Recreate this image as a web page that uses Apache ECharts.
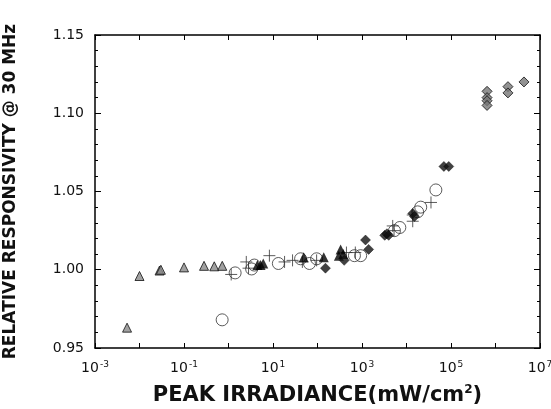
<!DOCTYPE html>
<html><head><meta charset="utf-8">
<script src="https://cdn.jsdelivr.net/npm/echarts@6/dist/echarts.min.js"></script>
<style>html,body{margin:0;padding:0;background:#fff}#c{width:551px;height:409px}</style>
</head><body><div id="c"></div>
<script>
// x = peak irradiance (mW/cm^2), y = relative responsivity
var grayTriangles = [[0.00525,0.963],[0.01,0.996],[0.0282,0.9995],[0.0302,1.0],[0.1,1.0015],[0.282,1.0025],[0.479,1.0022],[0.724,1.0025]];
var openCircles = [[0.72,0.968],[1.41,0.998],[3.31,1.0005],[3.8,1.003],[13.2,1.004],[41.7,1.007],[66,1.004],[95.5,1.007],[676,1.009],[933,1.009],[5370,1.025],[7080,1.027],[17800,1.037],[20900,1.04],[45700,1.051]];
var crosses = [[1.15,0.997],[2.51,1.005],[2.82,1.001],[8.3,1.009],[18.2,1.005],[27.5,1.006],[45.7,1.005],[95.5,1.006],[447,1.011],[708,1.011],[4900,1.028],[5250,1.025],[13800,1.035],[13800,1.031],[35500,1.043]];
var blackTriangles = [[4.47,1.003],[6.03,1.004],[5.25,1.003],[49,1.008],[138,1.008],[331,1.013],[302,1.009],[380,1.010]];
var blackDiamonds = [[151,1.001],[398,1.006],[1200,1.019],[1410,1.013],[3240,1.022],[3980,1.022],[3630,1.023],[13800,1.036],[15100,1.034],[69200,1.066],[89100,1.066]];
var grayDiamonds = [[646000,1.114],[646000,1.110],[646000,1.108],[646000,1.105],[1905000,1.117],[1905000,1.113],[4365000,1.120]];
var yTickLabels = ['0.95','1.00','1.05','1.10','1.15'];
var xLabelExponents = [-3,-1,1,3,5,7];

var FONT = '"DejaVu Sans", "Liberation Sans", Arial, sans-serif';
var chart = echarts.init(document.getElementById('c'));
function expLabel(v){
  var e = Math.round(Math.log(v)/Math.LN10);
  if (xLabelExponents.indexOf(e) < 0) return '';
  return '{b|10}{s|' + e + '}';
}
var frameLine = {show:true, lineStyle:{color:'#000', width:1.5}};
chart.setOption({
  animation:false,
  backgroundColor:'#fff',
  grid:{left:95, right:11, top:35, bottom:61, containLabel:false, outerBoundsMode:'none'},
  xAxis:[{
    type:'log', logBase:10, min:0.001, max:1e7, interval:1,
    axisLine:frameLine,
    axisTick:{show:true, inside:true, length:5, lineStyle:{color:'#000'}},
    splitLine:{show:false},
    axisLabel:{formatter:expLabel, margin:12, color:'#111',
      rich:{b:{fontSize:14, fontFamily:FONT, color:'#111'}, s:{fontSize:9, fontFamily:FONT, color:'#111', padding:[0,0,7,1]}}},
    name:'{n|PEAK IRRADIANCE(mW/cm}{s|2}{n|)}',
    nameLocation:'middle', nameGap:36,
    nameTextStyle:{rich:{n:{fontSize:21, fontWeight:'bold', fontFamily:FONT, color:'#111'}, s:{fontSize:12, fontWeight:'bold', fontFamily:FONT, color:'#111', padding:[0,0,11,0]}}}
  },{
    type:'log', logBase:10, min:0.001, max:1e7, interval:1, position:'top',
    axisLine:frameLine,
    axisTick:{show:true, inside:true, length:5, lineStyle:{color:'#000'}},
    axisLabel:{show:false}, splitLine:{show:false}
  }],
  yAxis:[{
    type:'value', min:0.95, max:1.15, interval:0.05,
    axisLine:frameLine,
    axisTick:{show:true, inside:true, length:6, lineStyle:{color:'#000'}},
    minorTick:{show:true, splitNumber:5, length:3, lineStyle:{color:'#000'}},
    splitLine:{show:false},
    axisLabel:{margin:11, fontSize:14, fontFamily:FONT, color:'#111',
      formatter:function(v){ return yTickLabels[Math.round((v-0.95)/0.05)]; }},
    name:'RELATIVE RESPONSIVITY @ 30 MHz',
    nameLocation:'middle', nameGap:76,
    nameTextStyle:{fontSize:17, fontWeight:'bold', fontFamily:FONT, color:'#111'}
  },{
    type:'value', min:0.95, max:1.15, interval:0.05, position:'right',
    axisLine:frameLine,
    axisTick:{show:true, inside:true, length:6, lineStyle:{color:'#000'}},
    minorTick:{show:true, splitNumber:5, length:3, lineStyle:{color:'#000'}},
    axisLabel:{show:false}, splitLine:{show:false}
  }],
  series:[
    {type:'scatter', data:grayTriangles, symbol:'triangle', symbolSize:9,
     itemStyle:{color:'#8a8a8a', borderColor:'#111', borderWidth:1}},
    {type:'scatter', data:openCircles, symbol:'circle', symbolSize:12,
     itemStyle:{color:'rgba(255,255,255,0)', borderColor:'#333', borderWidth:1}},
    {type:'scatter', data:crosses, symbol:'path://M0,5L10,5M5,0L5,10', symbolSize:12,
     itemStyle:{color:'none', borderColor:'#333', borderWidth:1}},
    {type:'scatter', data:blackTriangles, symbol:'triangle', symbolSize:10,
     itemStyle:{color:'#000'}},
    {type:'scatter', data:blackDiamonds, symbol:'diamond', symbolSize:10,
     itemStyle:{color:'#111', borderColor:'#000', borderWidth:0.5}},
    {type:'scatter', data:grayDiamonds, symbol:'diamond', symbolSize:10,
     itemStyle:{color:'#777', borderColor:'#111', borderWidth:1}}
  ]
});
</script></body></html>
